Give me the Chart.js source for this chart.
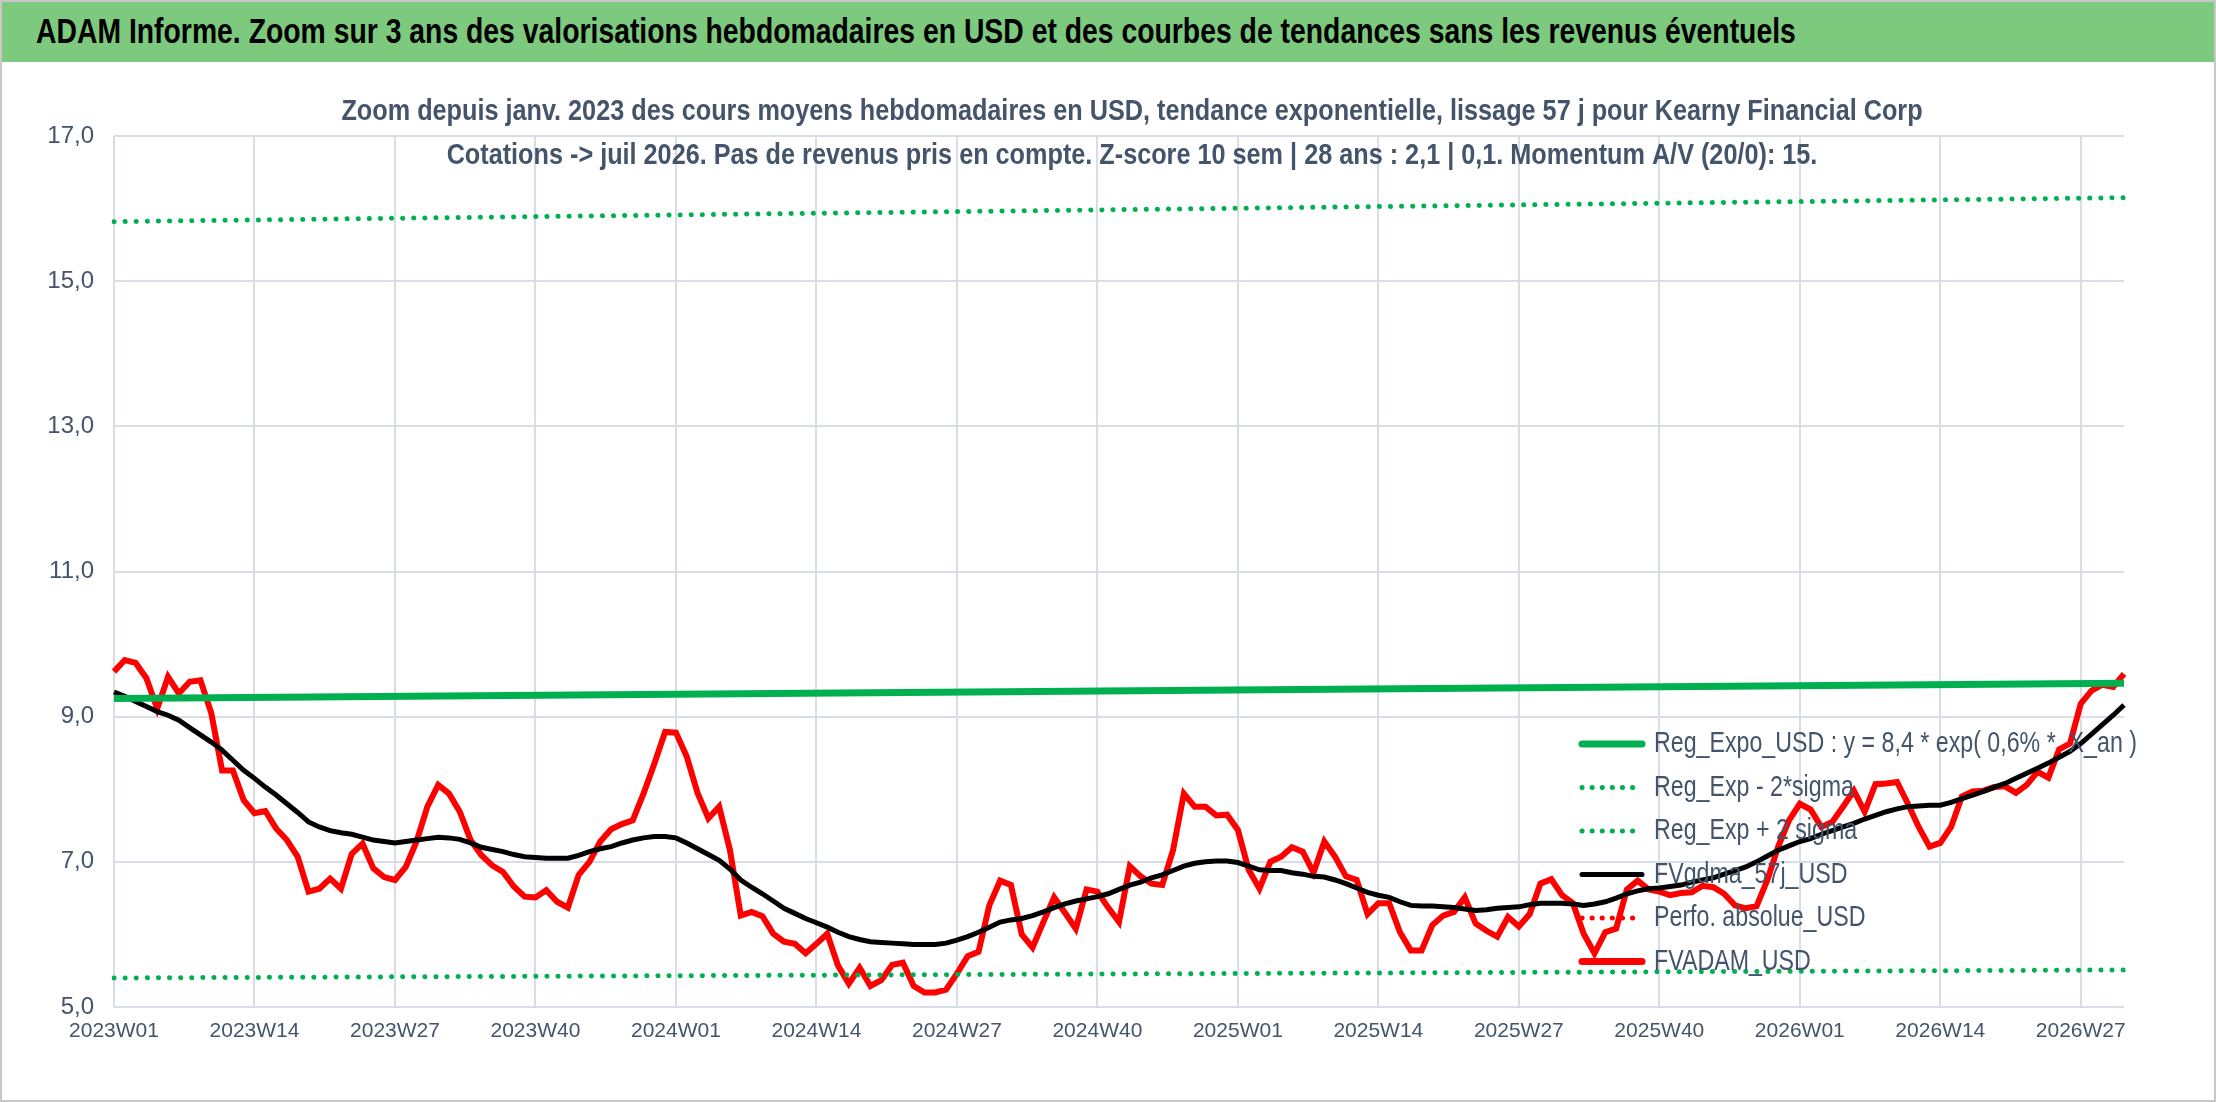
<!DOCTYPE html>
<html><head><meta charset="utf-8">
<script src="https://cdn.jsdelivr.net/npm/chart.js@4"></script>
<style>
html,body{margin:0;padding:0;background:#fff;}
#wrap{position:relative;width:2216px;height:1102px;box-sizing:border-box;border:2px solid #c8c8c8;overflow:hidden;}
#bar{position:absolute;left:0;top:0;width:2216px;height:60px;background:#7dc97d;}
#bar span{position:absolute;left:34px;top:9px;font:bold 35px "Liberation Sans",Arial,sans-serif;color:#000;transform:scaleX(0.81);transform-origin:0 0;white-space:nowrap}
#c{position:absolute;left:0;top:62px;}
</style></head><body>
<div id="wrap"><div id="bar"><span>ADAM Informe. Zoom sur 3 ans des valorisations hebdomadaires en USD et des courbes de tendances sans les revenus éventuels</span></div>
<canvas id="c" width="2216" height="1040"></canvas></div>
<script>
const years=[2023,2024,2025,2026];
const weeksPerYear=52;
const nPoints=187;
const weeks=[];
for(let i=0;i<nPoints;i++){const y=years[Math.floor(i/weeksPerYear)];const w=i%weeksPerYear+1;weeks.push(y+'W'+String(w).padStart(2,'0'));}
const tickEvery=13;
const fvadam=[9.62,9.78,9.74,9.53,9.11,9.55,9.32,9.48,9.50,9.05,
8.26,8.26,7.85,7.67,7.70,7.46,7.30,7.07,6.59,6.63,
6.77,6.63,7.11,7.25,6.91,6.79,6.75,6.93,7.28,7.76,
8.06,7.94,7.69,7.30,7.09,6.95,6.86,6.66,6.52,6.51,
6.61,6.45,6.37,6.82,7.00,7.28,7.45,7.52,7.57,7.94,
8.35,8.79,8.78,8.45,7.95,7.60,7.76,7.16,6.26,6.31,
6.25,6.01,5.90,5.87,5.74,5.87,6.01,5.57,5.32,5.54,
5.29,5.37,5.58,5.61,5.29,5.20,5.20,5.24,5.46,5.70,
5.76,6.40,6.74,6.68,6.00,5.82,6.17,6.51,6.30,6.08,
6.62,6.59,6.37,6.17,6.94,6.80,6.70,6.68,7.16,7.94,
7.76,7.76,7.64,7.65,7.44,6.89,6.63,7.00,7.07,7.20,
7.14,6.85,7.28,7.07,6.80,6.75,6.28,6.43,6.43,6.03,
5.78,5.78,6.13,6.26,6.31,6.51,6.15,6.05,5.97,6.24,
6.11,6.28,6.70,6.76,6.54,6.43,6.01,5.74,6.03,6.08,
6.62,6.74,6.62,6.59,6.54,6.57,6.58,6.67,6.65,6.56,
6.40,6.36,6.39,6.75,7.21,7.57,7.80,7.72,7.48,7.55,
7.76,7.98,7.69,8.07,8.08,8.10,7.80,7.48,7.21,7.26,
7.48,7.90,7.97,7.98,8.03,8.04,7.95,8.06,8.24,8.16,
8.55,8.63,9.18,9.36,9.44,9.41,9.59];
const fvgdma=[9.34,9.28,9.21,9.14,9.07,9.02,8.95,8.85,8.75,8.65,
8.54,8.40,8.26,8.15,8.03,7.92,7.80,7.68,7.55,7.48,
7.43,7.40,7.38,7.34,7.30,7.28,7.26,7.28,7.30,7.32,
7.34,7.33,7.31,7.26,7.20,7.17,7.14,7.10,7.07,7.06,
7.05,7.05,7.05,7.09,7.14,7.18,7.21,7.26,7.30,7.33,
7.35,7.35,7.33,7.26,7.18,7.10,7.02,6.90,6.75,6.65,
6.56,6.46,6.36,6.29,6.22,6.16,6.10,6.03,5.97,5.93,
5.90,5.89,5.88,5.87,5.86,5.86,5.86,5.88,5.92,5.97,
6.03,6.10,6.17,6.20,6.22,6.26,6.31,6.37,6.42,6.46,
6.49,6.52,6.56,6.62,6.68,6.72,6.78,6.82,6.88,6.94,
6.98,7.00,7.01,7.01,6.99,6.94,6.89,6.88,6.88,6.85,
6.83,6.80,6.79,6.75,6.70,6.64,6.58,6.54,6.51,6.45,
6.40,6.39,6.39,6.38,6.37,6.35,6.33,6.34,6.36,6.37,
6.38,6.41,6.43,6.43,6.43,6.42,6.40,6.42,6.45,6.50,
6.56,6.60,6.63,6.64,6.66,6.68,6.72,6.75,6.78,6.83,
6.88,6.93,7.00,7.08,7.16,7.22,7.28,7.32,7.38,7.43,
7.48,7.53,7.59,7.64,7.69,7.73,7.76,7.77,7.78,7.78,
7.82,7.87,7.92,7.97,8.03,8.08,8.15,8.22,8.29,8.36,
8.44,8.52,8.63,8.76,8.89,9.02,9.16];
// trend lines: start and end values (straight on this zoom)
const regExpoEnds=[9.25,9.46];
const regMinusEnds=[5.40,5.51];
const regPlusEnds=[15.82,16.15];
function ends(v){const a=new Array(nPoints).fill(null);a[0]=v[0];a[nPoints-1]=v[1];return a;}
const yTicks={min:5,max:17,step:2};
const subtitle=['Zoom depuis janv. 2023 des cours moyens hebdomadaires en USD, tendance exponentielle, lissage 57 j pour Kearny Financial Corp',
'Cotations -> juil 2026. Pas de revenus pris en compte. Z-score 10 sem | 28 ans : 2,1 | 0,1. Momentum A/V (20/0): 15.'];
const txtCol='#44546a';
const FONT='"Liberation Sans",Arial,sans-serif';
const green='#00b050';
const dotted={borderDash:[0.1,11],borderCapStyle:'round'};
const datasets=[
 {label:'Reg_Expo_USD : y = 8,4 * exp( 0,6% *  X_an )',data:ends(regExpoEnds),borderColor:green,borderWidth:7,spanGaps:true,lsw:7},
 {label:'Reg_Exp - 2*sigma',data:ends(regMinusEnds),borderColor:green,borderWidth:5,spanGaps:true,...dotted,dot:true},
 {label:'Reg_Exp + 2 sigma',data:ends(regPlusEnds),borderColor:green,borderWidth:5,spanGaps:true,...dotted,dot:true},
 {label:'FVgdma_57j_USD',data:fvgdma,borderColor:'#000',borderWidth:5,lsw:5},
 {label:'Perfo. absolue_USD',data:[],borderColor:'#ff0000',borderWidth:3,...dotted,dot:true},
 {label:'FVADAM_USD',data:fvadam,borderColor:'#ff0000',borderWidth:6,lsw:7}
];
function sx(c,text,x,y,k,align){c.save();c.translate(x,y);c.scale(k,1);c.textAlign=align;c.fillText(text,0,0);c.restore();}
const overlay={id:'overlay',afterDraw(ch){const c=ch.ctx;c.save();
 c.fillStyle=txtCol;c.font='bold 29px '+FONT;c.textBaseline='middle';
 sx(c,subtitle[0],1130,48,0.87,'center');sx(c,subtitle[1],1130,92,0.87,'center');
 c.font='29px '+FONT;
 ch.data.datasets.forEach((d,i)=>{const y=680+i*43.5;c.strokeStyle=d.borderColor;c.lineCap='round';
  if(d.dot){c.setLineDash([0.1,10]);c.lineWidth=5;}else{c.setLineDash([]);c.lineWidth=d.lsw;}
  c.beginPath();c.moveTo(1580,y);c.lineTo(1640,y);c.stroke();c.setLineDash([]);
  sx(c,d.label,1652,y,0.8,'left');});
 c.restore();}};
new Chart(document.getElementById('c'),{type:'line',data:{labels:weeks,datasets},
options:{responsive:false,animation:false,devicePixelRatio:1,
 layout:{padding:{top:72,right:94,left:0,bottom:0}},
 elements:{point:{radius:0},line:{tension:0}},
 plugins:{legend:{display:false},title:{display:false},tooltip:{enabled:false}},
 scales:{
  x:{offset:false,grid:{color:(ctx)=>ctx.index%tickEvery===0?'#d9dde5':'rgba(0,0,0,0)',lineWidth:2,drawTicks:false},border:{display:false},
   ticks:{autoSkip:false,maxRotation:0,minRotation:0,padding:12,color:txtCol,font:{family:FONT,size:21},
    callback:(v,i)=>i%tickEvery===0?weeks[i]:''},
   afterFit:(s)=>{s.height=97;}},
  y:{min:yTicks.min,max:yTicks.max,grid:{color:'#d9dde5',lineWidth:2,drawTicks:false},border:{display:false},
   ticks:{stepSize:yTicks.step,padding:20,color:txtCol,font:{family:FONT,size:24},callback:(v)=>v.toFixed(1).replace('.',',')},
   afterFit:(s)=>{s.width=112;}}
 }},plugins:[overlay]});
</script></body></html>
